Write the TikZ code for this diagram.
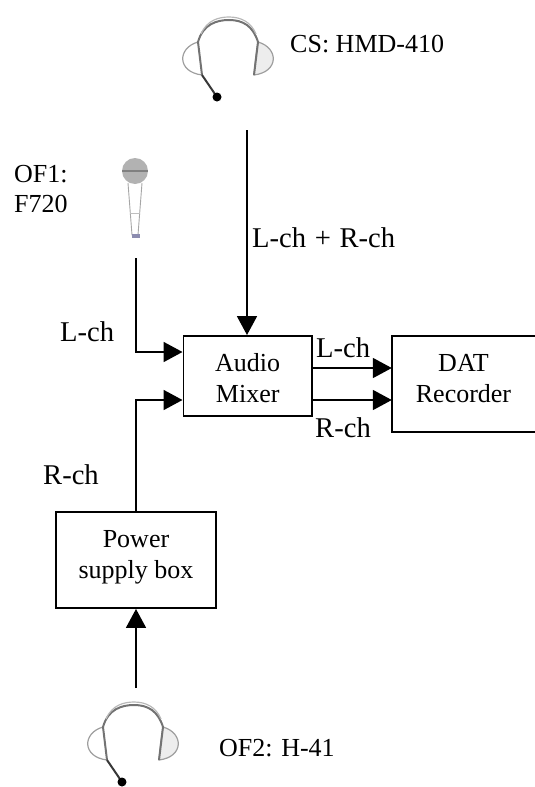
\documentclass[tikz,border=0pt]{standalone}
\usepackage{fontspec}
\setmainfont{Liberation Serif}
\usetikzlibrary{arrows.meta,calc}
\tikzset{
  px/.style={x=1pt,y=-1pt},
  boxtext/.style={inner sep=0pt,align=center,font=\fontsize{26}{31}\selectfont},
  blockbox/.style={boxtext,draw=black,line width=1.9pt},
  lbl/.style={inner sep=0pt,anchor=base west,font=\fontsize{26}{30}\selectfont,align=left},
  chlbl/.style={lbl,font=\fontsize{28.6}{30}\selectfont},
  conn/.style={draw=black,line width=1.8pt,-{Triangle[length=19pt,width=20pt]}},
  bandline/.style={draw=black!55,line width=2pt},
  bandlight/.style={draw=black!28,line width=1.2pt},
  earline/.style={draw=black!38,line width=1.2pt},
  micline/.style={draw=black!78,line width=2pt},
  headset/.pic={
    \draw[earline] (-29,42) .. controls (-50,48) and (-50,72) .. (-25,75);
    \draw[earline,fill=black!7] (31,42) .. controls (52,48) and (52,72) .. (27,75) .. controls (28,64) and (29,54) .. (31,42);
    \draw[bandline] (-25,75) -- (-29,42) .. controls (-24,24) and (-10,20) .. (2,20) .. controls (16,20) and (26,26) .. (31,42) -- (27,75);
    \draw[bandlight] (-26,34) .. controls (-20,20) and (-8,17) .. (2,17) .. controls (14,17) and (24,22) .. (29,34);
    \draw[micline] (-25,75) -- (-10,97);
    \fill[black] (-10,97) circle (4.5pt);
  },
  micro/.pic={
    \fill[black!30] (0,0) circle (13pt);
    \draw[black!50,line width=1.4pt] (-13,0) -- (13,0);
    \draw[black!35,line width=.9pt] (-7,12) -- (-3,64) -- (3,64) -- (7,12);
    \draw[black!25,line width=.8pt] (-5,42) -- (5,42);
    \fill[blue!30!black!45] (-3,63) rectangle (5,67);
  }
}
\begin{document}
\begin{tikzpicture}[px]
\useasboundingbox (0,0) rectangle (535,787);
% icons
\pic at (227,0) {headset};
\pic at (132,685) {headset};
\pic at (135,171) {micro};
% boxes
\node[blockbox,minimum width=128.5pt,minimum height=80pt,text height=60pt,text depth=8pt] (mix) at (247.7,376) {Audio\\Mixer};
\node[boxtext,minimum width=143pt,minimum height=96pt,text height=44pt,text depth=8pt] (dat) at (463.5,384) {DAT\\Recorder};
\draw[line width=1.9pt] (dat.north east) -- (dat.north west) -- (dat.south west) -- (dat.south east);
\node[blockbox,minimum width=160pt,minimum height=96pt,text height=44pt,text depth=8pt] (psu) at (136,560) {Power\\supply box};
% free ends and ports
\coordinate (cs) at (247,130);
\coordinate (of1) at (136,258);
\coordinate (of2) at (136,688);
\coordinate (mixL) at ($(mix.west)+(0,-24)$);
\coordinate (mixR) at ($(mix.west)+(0,24)$);
\coordinate (outL) at ($(mix.east)+(0,-8)$);
\coordinate (outR) at ($(mix.east)+(0,24)$);
\coordinate (datL) at (dat.west |- outL);
\coordinate (datR) at (dat.west |- outR);
% connectors
\draw[conn] (cs) -- (cs |- mix.north);
\draw[conn] (of1) |- (mixL);
\draw[conn] (psu.north) |- (mixR);
\draw[conn] (outL) -- (datL);
\draw[conn] (outR) -- (datR);
\draw[conn] (of2) -- (psu.south);
% labels
\node[lbl] (cslabel) at (290,52) {CS: HMD-410};
\node[lbl] (of1label) at (14,212) {OF1:\\F720};
\node[chlbl] (sumlabel) at (252,247) {L-ch\kern1.5pt{} + \kern1.5pt{}R-ch};
\node[chlbl] (l1label) at (60,341) {L-ch};
\node[chlbl] (r1label) at (43,484) {R-ch};
\node[chlbl] (l2label) at (316,357) {L-ch};
\node[chlbl] (r2label) at (315,437) {R-ch};
\node[lbl] (of2label) at (219,756) {OF2: H-41};
\end{tikzpicture}
\end{document}
